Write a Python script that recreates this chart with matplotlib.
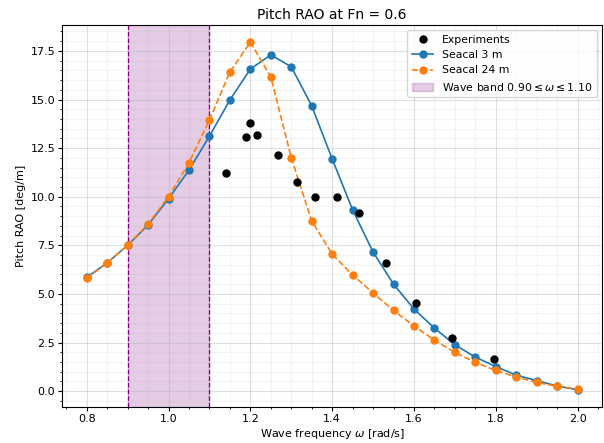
import numpy as np
import matplotlib
matplotlib.use("Agg")
import matplotlib.pyplot as plt
from matplotlib.ticker import AutoMinorLocator

plt.rcParams['font.size'] = 8

# wave frequencies for the two Seacal runs
omega = [0.80, 0.85, 0.90, 0.95, 1.00, 1.05, 1.10, 1.15, 1.20, 1.25, 1.30, 1.35, 1.40,
         1.45, 1.50, 1.55, 1.60, 1.65, 1.70, 1.75, 1.80, 1.85, 1.90, 1.95, 2.00]

rao_3m = [5.85, 6.6, 7.5, 8.55, 9.9, 11.37, 13.12, 14.98, 16.57, 17.3, 16.68, 14.67, 11.94,
          9.32, 7.15, 5.5, 4.22, 3.24, 2.38, 1.75, 1.26, 0.82, 0.54, 0.26, 0.07]

rao_24m = [5.8, 6.6, 7.5, 8.6, 10.0, 11.75, 13.95, 16.42, 17.95, 16.16, 12.0, 8.75, 7.05,
           5.97, 5.05, 4.15, 3.35, 2.62, 1.99, 1.48, 1.06, 0.72, 0.45, 0.24, 0.1]

exp_omega = [1.141, 1.19, 1.198, 1.216, 1.268, 1.314, 1.359, 1.411, 1.465, 1.532,
             1.605, 1.693, 1.796]
exp_rao = [11.24, 13.07, 13.81, 13.19, 12.15, 10.74, 10.0, 10.0, 9.14, 6.6,
           4.55, 2.75, 1.65]

band_lo, band_hi = 0.90, 1.10

fig, ax = plt.subplots(figsize=(6.04, 4.43), dpi=100)
fig.subplots_adjust(left=0.103, right=0.997, top=0.944, bottom=0.081)

ax.axvspan(band_lo, band_hi, color='purple', alpha=0.2,
           label=r'Wave band $0.90 \leq \omega \leq 1.10$')
ax.axvline(band_lo, color='purple', ls='--', lw=0.9)
ax.axvline(band_hi, color='purple', ls='--', lw=0.9)

ax.plot(exp_omega, exp_rao, 'o', color='black', ms=5, label='Experiments', zorder=4)
ax.plot(omega, rao_3m, '-o', color='tab:blue', ms=5, lw=1.2, label='Seacal 3 m')
ax.plot(omega, rao_24m, '--o', color='tab:orange', ms=5, lw=1.2, label='Seacal 24 m')

ax.set_title('Pitch RAO at Fn = 0.6', fontsize=10, pad=4)
ax.set_xlabel(r'Wave frequency $\omega$ [rad/s]', labelpad=2)
ax.set_ylabel('Pitch RAO [deg/m]', labelpad=3)

ax.xaxis.set_minor_locator(AutoMinorLocator())
ax.yaxis.set_minor_locator(AutoMinorLocator())
ax.tick_params(which='major', length=3, pad=2)
ax.tick_params(which='minor', length=1.5)
ax.grid(which='major', alpha=0.4)
ax.grid(which='minor', alpha=0.15)

handles, labels = ax.get_legend_handles_labels()
order = [1, 2, 3, 0]
ax.legend([handles[i] for i in order], [labels[i] for i in order],
          loc='upper right', fontsize=7.8)

plt.savefig('out.png')
